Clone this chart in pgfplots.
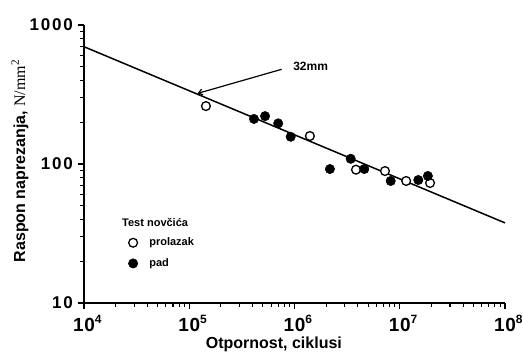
\documentclass[border=0pt]{standalone}
\usepackage{fontspec}
\setmainfont{Liberation Sans}
\newfontfamily\seriffont{Liberation Serif}
\usepackage{pgfplots}
\pgfplotsset{compat=1.18}
\usetikzlibrary{arrows.meta}

\pgfplotstableread{
x y
1.44e5 261
1.40e6 159
3.84e6 91
7.24e6 89
1.15e7 75.5
1.94e7 73
}\openpts

\pgfplotstableread{
x y
4.12e5 211
5.25e5 221
7.0e5 196
9.2e5 157
2.17e6 92
3.42e6 109
4.6e6 92
8.2e6 75.5
1.50e7 76.7
1.85e7 82
}\fullpts

\newcommand{\xt}[1]{1\kern0.6bp 0\rlap{\raisebox{7.5bp}{\fontsize{12bp}{12bp}\selectfont #1}}}
\newcommand{\yk}{\kern1.8bp}

\begin{document}
\begin{tikzpicture}
\path[use as bounding box] (-84bp,-53bp) rectangle (439bp,303bp);
\begin{axis}[
  at={(0,0)}, anchor=south west,
  scale only axis, width=421bp, height=278bp,
  xmode=log, ymode=log,
  xmin=1e4, xmax=1e8, ymin=10, ymax=1000,
  axis x line=bottom, axis y line=left,
  axis line style={-, line width=1.4bp},
  tick align=outside,
  every tick/.style={black, line width=1.1bp},
  major tick length=6bp, minor tick length=4bp,
  xtick={1e4,1e5,1e6,1e7,1e8},
  xticklabels={\xt{4},\xt{5},\xt{6},\xt{7},\xt{8}},
  ytick={10,100,1000},
  yticklabels={1\yk0, 1\yk0\yk0, 1\yk0\yk0\yk0},
  xticklabel style={font=\bfseries\fontsize{19bp}{19bp}\selectfont, anchor=base, inner sep=0pt, yshift=-22.5bp},
  yticklabel style={font=\bfseries\fontsize{17bp}{17bp}\selectfont, anchor=east, inner sep=0pt, xshift=-5bp},
  xlabel={Otpornost, ciklusi},
  ylabel={Raspon naprezanja, {\seriffont\mdseries N/mm\textsuperscript{2}}},
  xlabel style={font=\bfseries\fontsize{16bp}{16bp}\selectfont, at={(rel axis cs:0.451,0)}, anchor=base, yshift=-45.5bp, inner sep=0pt},
  ylabel style={font=\bfseries\fontsize{16bp}{16bp}\selectfont, at={(rel axis cs:0,0.511)}, anchor=base, yshift=59bp, inner sep=0pt},
  clip=false,
  legend style={at={(rel axis cs:0.1055,0.2346)}, anchor=north west, draw=none, fill=none,
    inner sep=0pt, outer sep=0pt, font=\bfseries\fontsize{11bp}{11bp}\selectfont,
    nodes={inner sep=0pt, anchor=base west}, row sep=9.7bp,
    /tikz/every odd column/.append style={column sep=11.5bp}},
  legend image code/.code={\path[draw=none, fill=none] (0bp,-3bp) rectangle (9bp,7bp); \path[#1] plot[only marks] coordinates {(4.5bp,3bp)};},
]
\addplot[line width=1.5bp, black, forget plot] coordinates {(1e4,698) (1e8,37.7)};
\addplot[only marks, mark=*, mark size=4.4bp, mark options={fill=white, draw=black, line width=1.3bp}] table {\openpts};
\addlegendentry{prolazak}
\addplot[only marks, mark=*, mark size=4.7bp, mark options={fill=black, draw=black, line width=0.5bp}] table {\fullpts};
\addlegendentry{pad}
\draw[line width=1.2bp, -{Straight Barb[length=4bp, width=6bp]}] (axis cs:7.55e5,480) -- (axis cs:1.2e5,322);
\node[anchor=west, inner sep=0pt, font=\bfseries\fontsize{12bp}{12bp}\selectfont] at (axis cs:9.7e5,507) {32mm};
\node[anchor=west, inner sep=0pt, font=\bfseries\fontsize{11bp}{11bp}\selectfont] at (rel axis cs:0.0903,0.289) {Test novčića};
\end{axis}
\end{tikzpicture}
\end{document}
